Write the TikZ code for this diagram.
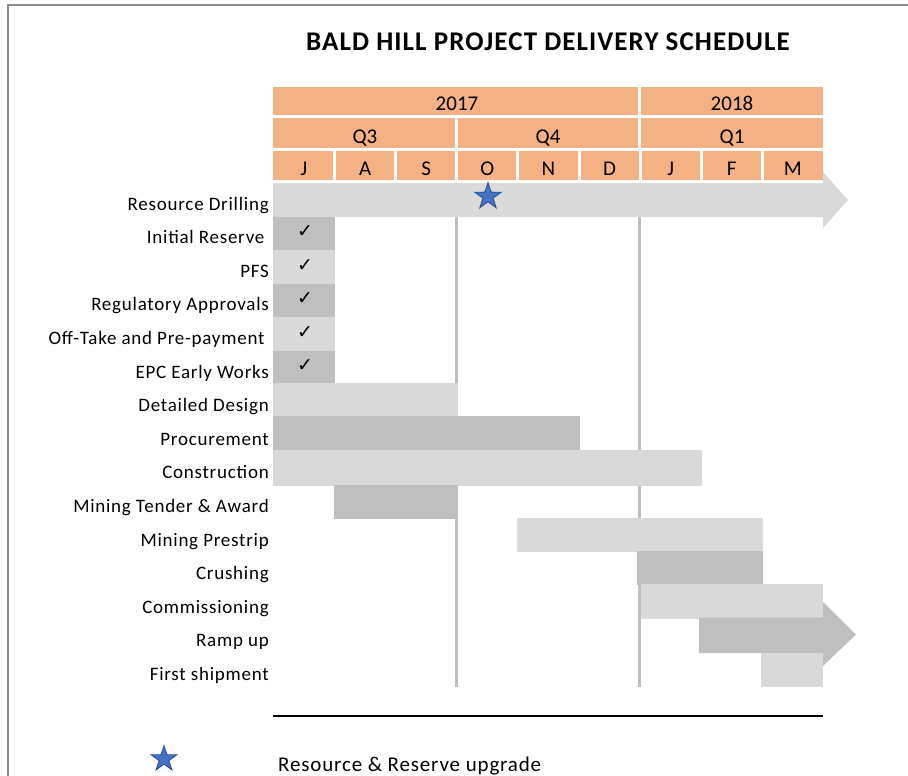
\documentclass[tikz,border=0pt]{standalone}
\usepackage{fontspec}
\setmainfont{Carlito}
\newfontfamily\labfont[LetterSpace=4]{Carlito}
\newfontfamily\titfont[LetterSpace=4]{Carlito}
\newfontfamily\symfont{DejaVu Sans}
\usetikzlibrary{shapes.geometric}
\definecolor{hdr}{HTML}{F4B183}
\definecolor{barL}{HTML}{D9D9D9}
\definecolor{barD}{HTML}{BFBFBF}
\definecolor{starF}{HTML}{4472C4}
\definecolor{starE}{HTML}{2F528F}
\definecolor{frameC}{HTML}{8C8C8C}
\begin{document}
\begin{tikzpicture}[x=1pt,y=-1pt,
  lab/.style={anchor=base east, inner sep=0pt, font=\labfont\fontsize{19}{22}\selectfont},
  hdrtxt/.style={anchor=base, inner sep=0pt, font=\fontsize{21}{24}\selectfont},
  chk/.style={inner sep=0pt, font=\symfont\fontsize{19}{22}\selectfont},
  mstar/.style={star, star points=5, star point ratio=2.6, draw=starE, line width=0.8pt, fill=starF, inner sep=0pt, minimum size=28pt},
  sep/.style={white, line width=3pt},
  vline/.style={barD, line width=3pt}]
\useasboundingbox (0,0) rectangle (908,776);
\fill[white] (0,0) rectangle (908,776);
% frame
\draw[frameC, line width=1.6pt] (8,780) -- (8,5) -- (912,5);
% title
\node[inner sep=0pt, font=\titfont\bfseries\fontsize{27}{31}\selectfont] (title) at (548,42) {BALD HILL PROJECT DELIVERY SCHEDULE};
% header
\fill[hdr] (273,87) rectangle (823,115);
\fill[hdr] (273,118) rectangle (823,148);
\fill[hdr] (273,151) rectangle (823,180);
\draw[sep] (639.2,85) -- (639.2,116);
\draw[sep] (456.3,117) -- (456.3,149);
\draw[sep] (639.2,117) -- (639.2,149);
\foreach \k in {1,...,8} {
  \draw[sep] ({273+61.11*\k+0.5},150) -- ({273+61.11*\k+0.5},181);
}
\node[hdrtxt] (y2017) at (457,110.5) {2017};
\node[hdrtxt] (y2018) at (732,110.5) {2018};
\node[hdrtxt] (q3) at (365,143) {Q3};
\node[hdrtxt] (q4) at (548,143) {Q4};
\node[hdrtxt] (q1) at (732,143) {Q1};
\foreach \m [count=\i from 0] in {J,A,S,O,N,D,J,F,M} {
  \node[hdrtxt] (m\i) at ({273+61.11*\i+31},175) {\m};
}
% vertical quarter lines
\draw[vline] (456,216) -- (456,687);
\draw[vline] (639,216) -- (639,687);
% bars
\fill[barL] (273,183) -- (823,183) -- (823,172) -- (848,200) -- (823,228) -- (823,217) -- (273,217) -- cycle;
\fill[barD] (273,217) rectangle (335,250.2);
\fill[barL] (273,250.2) rectangle (335,283.8);
\fill[barD] (273,283.8) rectangle (335,317.4);
\fill[barL] (273,317.4) rectangle (335,351);
\fill[barD] (273,351) rectangle (335,384.6);
\fill[barL] (273,383.4) rectangle (458,416.6);
\fill[barD] (273,416.4) rectangle (580,450.2);
\fill[barL] (273,450.2) rectangle (702,486);
\fill[barD] (334,484.6) rectangle (458,519);
\fill[barL] (517,517.6) rectangle (763,552);
\fill[barD] (637,551) rectangle (763,585);
\fill[barL] (641,584.4) rectangle (823,618.6);
\fill[barD] (699,617.6) -- (823,617.6) -- (823,602) -- (856,634.5) -- (823,666) -- (823,653) -- (699,653) -- cycle;
\fill[barL] (761,652.6) rectangle (823,687);
% star milestone
\node[mstar] (ms) at (488,196.5) {};
% check marks
\foreach \r in {1,...,5} {
  \node[chk] (c\r) at (305,{183+33.6*\r+15}) {✓};
}
% labels
\foreach \t [count=\r from 0] in {Resource Drilling,Initial Reserve\hphantom{i},PFS,Regulatory Approvals,Off-Take and Pre-payment\hphantom{i},EPC Early Works,Detailed Design,Procurement,Construction,Mining Tender \& Award,Mining Prestrip,Crushing,Commissioning,Ramp up,First shipment} {
  \node[lab] (l\r) at (269,{183+33.6*\r+27}) {\t};
}
% bottom rule
\draw[black, line width=2.2pt] (273,716) -- (823,716);
% legend
\node[mstar, minimum size=27pt] (legstar) at (164,759) {};
\node[anchor=base west, inner sep=0pt, font=\labfont\fontsize{21}{24}\selectfont] (legtxt) at (278,771) {Resource \& Reserve upgrade};
\end{tikzpicture}
\end{document}
